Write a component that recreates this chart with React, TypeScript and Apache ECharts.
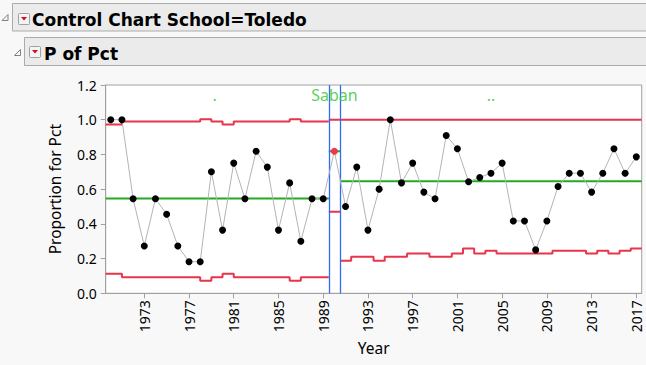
import React, { useEffect, useRef } from "react";
import * as echarts from "echarts";

const years = [
  1970, 1971, 1972, 1973, 1974, 1975, 1976, 1977, 1978, 1979,
  1980, 1981, 1982, 1983, 1984, 1985, 1986, 1987, 1988, 1989,
  1990,
  1991, 1992, 1993, 1994, 1995, 1996, 1997, 1998, 1999, 2000,
  2001, 2002, 2003, 2004, 2005, 2006, 2007, 2008, 2009, 2010,
  2011, 2012, 2013, 2014, 2015, 2016, 2017,
];

const pct = [
  1.0, 1.0, 0.545, 0.273, 0.545, 0.455, 0.273, 0.182, 0.182, 0.7,
  0.364, 0.75, 0.545, 0.818, 0.727, 0.364, 0.636, 0.3, 0.545, 0.545,
  0.818,
  0.5, 0.727, 0.364, 0.6, 1.0, 0.636, 0.75, 0.583, 0.545, 0.909,
  0.833, 0.643, 0.667, 0.692, 0.75, 0.417, 0.417, 0.25, 0.417, 0.615,
  0.692, 0.692, 0.583, 0.692, 0.833, 0.692, 0.786,
];

// phase 1: 1970-1989, phase 2 (Saban): 1990, phase 3: 1991-2017
const phase1Count = 20;
const phase2Count = 1;

const ucl1 = [0.973, 0.973, 0.99, 0.99, 0.99, 0.99, 0.99, 0.99, 0.99, 1.003,
  0.99, 0.973, 0.99, 0.99, 0.99, 0.99, 0.99, 1.003, 0.99, 0.99];
const lcl1 = [0.112, 0.112, 0.093, 0.093, 0.093, 0.093, 0.093, 0.093, 0.093, 0.073,
  0.093, 0.112, 0.093, 0.093, 0.093, 0.093, 0.093, 0.073, 0.093, 0.093];
const cl1 = 0.546;

const ucl2 = [1.0];
const lcl2 = [0.47];
const cl2 = 0.818;

const ucl3 = [1.0, 1.0, 1.0, 1.0, 1.0, 1.0, 1.0, 1.0, 1.0, 1.0,
  1.0, 1.0, 1.0, 1.0, 1.0, 1.0, 1.0, 1.0, 1.0, 1.0,
  1.0, 1.0, 1.0, 1.0, 1.0, 1.0, 1.0];
const lcl3 = [0.188, 0.21, 0.21, 0.188, 0.21, 0.21, 0.23, 0.23, 0.21, 0.21,
  0.23, 0.258, 0.23, 0.245, 0.23, 0.23, 0.23, 0.23, 0.23, 0.245,
  0.245, 0.245, 0.23, 0.245, 0.23, 0.245, 0.258];
const cl3 = 0.645;

const phaseBounds = [1989.5, 1990.5];
const phaseLabels = [".", "Saban", ".."];
const phaseLabelX = [1979.3, 1990, 2004];
const xTickLabels = [1973, 1977, 1981, 1985, 1989, 1993, 1997, 2001, 2005, 2009, 2013, 2017];
const xMin = 1969.55;
const xMax = 2017.48;

const RED = "#e8354b";
const GREEN = "#22aa22";
const BLUE = "#2f6cf5";
const FONT = "Noto Sans";

function stepEnd(ys: number[], vals: number[], startX: number, endX: number) {
  const pts: number[][] = [];
  ys.forEach((y, i) => {
    const v = vals[i];
    const s = i === 0 ? startX : ys[i - 1];
    pts.push([s, v], [y, v]);
    if (i === ys.length - 1) pts.push([endX, v]);
  });
  return pts;
}

function stepMid(ys: number[], vals: number[], startX: number, endX: number) {
  const pts: number[][] = [];
  ys.forEach((y, i) => {
    const v = vals[i];
    const s = i === 0 ? startX : y - 0.5;
    const e = i === ys.length - 1 ? endX : y + 0.5;
    pts.push([s, v], [e, v]);
  });
  return pts;
}

function limitSeries(data: number[][], color: string) {
  return {
    type: "line",
    data,
    showSymbol: false,
    symbol: "none",
    silent: true,
    lineStyle: { color, width: 2 },
    z: 2,
  };
}

function headerIcon(x: number, y: number) {
  return [
    {
      type: "rect",
      shape: { x, y, width: 11, height: 11, r: 1 },
      style: { fill: "#f4f4f4", stroke: "#a0a0a0", lineWidth: 1 },
    },
    {
      type: "polygon",
      shape: { points: [[x + 2.5, y + 3.5], [x + 8.5, y + 3.5], [x + 5.5, y + 7]] },
      style: { fill: "#d0101a" },
    },
  ];
}

function outlineTri(x: number, y: number) {
  return {
    type: "polygon",
    shape: { points: [[x + 6, y], [x + 6, y + 6], [x, y + 6]] },
    style: { fill: "none", stroke: "#808080", lineWidth: 1 },
  };
}

export default function App() {
  const ref = useRef<HTMLDivElement>(null);

  useEffect(() => {
    if (!ref.current) return;
    const chart = echarts.init(ref.current, undefined, { renderer: "svg" });

    const y1 = years.slice(0, phase1Count);
    const y2 = years.slice(phase1Count, phase1Count + phase2Count);
    const y3 = years.slice(phase1Count + phase2Count);

    const pointData = years.map((yr, i) => {
      const isSaban = i >= phase1Count && i < phase1Count + phase2Count;
      return {
        value: [yr, pct[i]],
        itemStyle: { color: isSaban ? "#f03848" : "#000000" },
      };
    });

    chart.setOption({
      animation: false,
      backgroundColor: "#f8f8f8",
      grid: {
        left: 105.7,
        right: 4.3,
        top: 85,
        bottom: 71.7,
        show: true,
        backgroundColor: "#ffffff",
        borderColor: "#a0a0a0",
        borderWidth: 1,
      },
      xAxis: {
        type: "value",
        min: xMin,
        max: xMax,
        name: "Year",
        nameLocation: "middle",
        nameGap: 47,
        nameTextStyle: { color: "#000", fontSize: 15.5, fontFamily: FONT },
        axisLine: { show: true, lineStyle: { color: "#a0a0a0" } },
        axisTick: { show: true, length: 5, customValues: xTickLabels, lineStyle: { color: "#a0a0a0" } },
        axisLabel: {
          customValues: xTickLabels,
          rotate: 90,
          margin: 7,
          color: "#000",
          fontSize: 14,
          fontFamily: FONT,
          formatter: (v: number) => String(Math.round(v)),
        },
        splitLine: { show: false },
      },
      yAxis: {
        type: "value",
        min: 0,
        max: 1.2,
        interval: 0.2,
        name: "Proportion for Pct",
        nameLocation: "middle",
        nameRotate: 90,
        nameGap: 43,
        nameTextStyle: { color: "#000", fontSize: 15.5, fontFamily: FONT },
        axisLine: { show: true, lineStyle: { color: "#a0a0a0" } },
        axisTick: { show: true, length: 5, lineStyle: { color: "#a0a0a0" } },
        axisLabel: {
          margin: 9,
          color: "#000",
          fontSize: 14,
          fontFamily: FONT,
          formatter: (v: number) => v.toFixed(1),
        },
        splitLine: { show: false },
      },
      graphic: [
        {
          type: "rect",
          shape: { x: 12.5, y: 3.5, width: 640, height: 27.5 },
          style: { fill: "#ebebeb", stroke: "#ababab", lineWidth: 1 },
        },
        outlineTri(2, 14.5),
        ...headerIcon(18.5, 13.5),
        {
          type: "text",
          x: 32,
          y: 19.5,
          style: {
            text: "Control Chart School=Toledo",
            fill: "#000",
            font: "bold 17px 'DejaVu Sans'",
            verticalAlign: "middle",
          },
        },
        {
          type: "rect",
          shape: { x: 24.5, y: 37.5, width: 630, height: 28 },
          style: { fill: "#ebebeb", stroke: "#ababab", lineWidth: 1 },
        },
        outlineTri(14.5, 49.5),
        ...headerIcon(29.5, 46.5),
        {
          type: "text",
          x: 44,
          y: 53.5,
          style: {
            text: "P of Pct",
            fill: "#000",
            font: "bold 17px 'DejaVu Sans'",
            verticalAlign: "middle",
          },
        },
      ],
      series: [
        limitSeries(stepEnd(y1, ucl1, xMin, phaseBounds[0]), RED),
        limitSeries(stepEnd(y1, lcl1, xMin, phaseBounds[0]), RED),
        limitSeries([[xMin, cl1], [phaseBounds[0], cl1]], GREEN),
        limitSeries(stepMid(y2, ucl2, phaseBounds[0], phaseBounds[1]), RED),
        limitSeries(stepMid(y2, lcl2, phaseBounds[0], phaseBounds[1]), RED),
        limitSeries([[phaseBounds[0], cl2], [phaseBounds[1], cl2]], GREEN),
        limitSeries(stepMid(y3, ucl3, phaseBounds[1], xMax), RED),
        limitSeries(stepMid(y3, lcl3, phaseBounds[1], xMax), RED),
        limitSeries([[phaseBounds[1], cl3], [xMax, cl3]], GREEN),
        {
          type: "line",
          data: pointData,
          symbol: "circle",
          symbolSize: 7,
          showSymbol: true,
          lineStyle: { color: "#b4b4b4", width: 1 },
          z: 5,
          silent: true,
          markLine: {
            silent: true,
            symbol: ["none", "none"],
            label: { show: false },
            lineStyle: { color: BLUE, width: 1.3, type: "solid" },
            data: phaseBounds.map((b) => ({ xAxis: b })),
            z: 3,
          },
        },
        {
          type: "scatter",
          symbolSize: 0,
          silent: true,
          itemStyle: { color: "transparent" },
          data: phaseLabels.map((name, i) => ({ name, value: [phaseLabelX[i], 1.141] })),
          label: {
            show: true,
            position: "inside",
            formatter: "{b}",
            color: "#2ec42e",
            fontSize: 16,
            fontFamily: FONT,
          },
          z: 6,
        },
      ],
    });

    return () => chart.dispose();
  }, []);

  return (
    <div
      ref={ref}
      style={{ position: "fixed", left: 0, top: 0, width: 646, height: 365 }}
    />
  );
}
